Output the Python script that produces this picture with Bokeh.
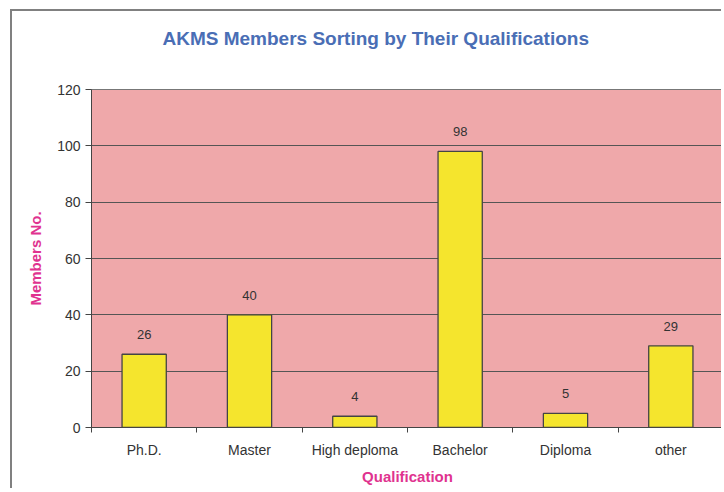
from bokeh.plotting import figure
from bokeh.models import ColumnDataSource, FixedTicker, Range1d, Title
from bokeh.core.properties import value
from bokeh.embed import file_html
from bokeh.resources import INLINE

categories = ["Ph.D.", "Master", "High deploma", "Bachelor", "Diploma", "other"]
members = [26, 40, 4, 98, 5, 29]
y_ticks = [0, 20, 40, 60, 80, 100, 120]
title_text = "AKMS Members Sorting by Their Qualifications"

xpos = [i + 0.5 for i in range(len(categories))]
src = ColumnDataSource(dict(x=xpos, top=members, label=[str(v) for v in members]))

p = figure(width=711, height=479, x_range=Range1d(0, len(categories)), y_range=Range1d(0, 120),
           output_backend="svg", toolbar_location=None,
           min_border_left=79, min_border_top=78, min_border_bottom=63, min_border_right=0)
p.margin = (9, 0, 0, 10)
p.styles = {"border-left": "2px solid #808080", "border-top": "2px solid #808080"}

p.background_fill_color = "#EFA8AA"
p.border_fill_color = "white"
p.outline_line_color = "#777777"
p.outline_line_width = 1

p.title.text = title_text
p.title.text_font = "Liberation Sans"
p.title.text_font_size = "19px"
p.title.text_font_style = "bold"
p.title.text_color = "#4A6EB5"
p.title.align = "left"
p.title.offset = 71
p.title.standoff = 0
# empty spacer between title and frame
p.add_layout(Title(text=" ", text_font_size="1px", standoff=38), "above")

p.vbar(x="x", top="top", width=0.42, source=src, fill_color="#F5E52D",
       line_color="#444444", line_width=1.3)
p.text(x="x", y="top", text="label", source=src, text_align="center", text_baseline="bottom",
       y_offset=-15, text_font_size="13px", text_color="#333333",
       text_font=value("Liberation Sans"))

# grid
p.xgrid.visible = False
p.ygrid.ticker = FixedTicker(ticks=y_ticks)
p.ygrid.grid_line_color = "#555555"
p.ygrid.grid_line_width = 1

# y axis
p.yaxis.ticker = FixedTicker(ticks=y_ticks)
p.yaxis.axis_line_color = "#444444"
p.yaxis.major_tick_line_color = "#444444"
p.yaxis.major_tick_out = 6
p.yaxis.major_tick_in = 0
p.yaxis.minor_tick_line_color = None
p.yaxis.major_label_standoff = 5
p.yaxis.major_label_text_font = "Liberation Sans"
p.yaxis.major_label_text_font_size = "14px"
p.yaxis.major_label_text_color = "#333333"
p.yaxis.axis_label = "Members No."
p.yaxis.axis_label_text_font = "Liberation Sans"
p.yaxis.axis_label_text_font_size = "15px"
p.yaxis.axis_label_text_font_style = "bold"
p.yaxis.axis_label_text_color = "#E0338F"
p.yaxis.axis_label_standoff = 10

# x axis: labels at centers, tick marks at boundaries
p.xaxis.ticker = FixedTicker(ticks=xpos, minor_ticks=list(range(len(categories) + 1)))
p.xaxis.major_label_overrides = {x: c for x, c in zip(xpos, categories)}
p.xaxis.axis_line_color = "#444444"
p.xaxis.major_tick_out = 0
p.xaxis.major_tick_in = 0
p.xaxis.minor_tick_out = 5
p.xaxis.minor_tick_in = 0
p.xaxis.minor_tick_line_color = "#444444"
p.xaxis.major_label_standoff = 9
p.xaxis.major_label_text_font = "Liberation Sans"
p.xaxis.major_label_text_font_size = "14px"
p.xaxis.major_label_text_color = "#333333"
p.xaxis.axis_label = "Qualification"
p.xaxis.axis_label_text_font = "Liberation Sans"
p.xaxis.axis_label_text_font_size = "15px"
p.xaxis.axis_label_text_font_style = "bold"
p.xaxis.axis_label_text_color = "#E0338F"
p.xaxis.axis_label_standoff = 7

open("out.html", "w").write(file_html(p, INLINE))
